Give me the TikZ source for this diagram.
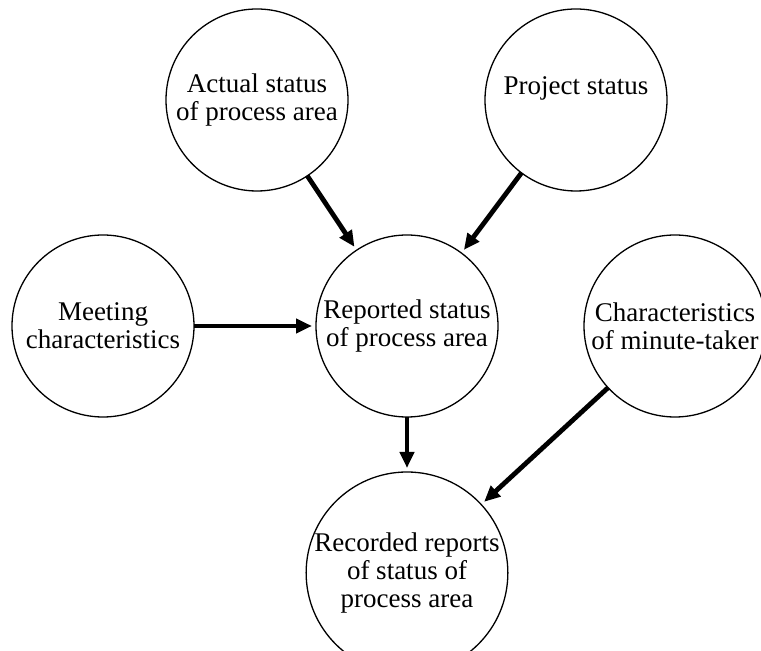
\documentclass[tikz,border=0pt]{standalone}
\usepackage{fontspec}
\setmainfont{Liberation Serif}
\usepackage{tikz}
\usetikzlibrary{arrows.meta, positioning}
\tikzset{
  % Concept circles
  concept/.style={
    circle, draw=black, fill=white, minimum size=91pt, inner sep=0pt,
    outer sep=0pt, line width=0.65pt, align=center, text=black,
    font=\fontsize{13.5}{14}\selectfont,
  },
  % Arrows
  myarrow/.style={-{Triangle[length=8pt, width=7pt]}, line width=2.4pt,
    shorten >=2pt, #1},
  myarrow/.default={black},
}
\begin{document}
\begin{tikzpicture}[x=0.5pt, y=-0.5pt]
  \useasboundingbox (0,0) rectangle (761,651);

  % Middle row
  \node[concept] (reported) at (407,326) {Reported status\\of process area};
  \node[concept, left=61pt of reported] (meeting) {Meeting\\characteristics};
  \node[concept, right=43pt of reported] (minute) {Characteristics\\of minute-taker};

  % Top row
  \node[concept, above=22pt of reported, xshift=-75pt] (actual) {Actual status\\of process area};
  \node[concept, above=22pt of reported, xshift=84.5pt] (project) {Project status\\\mbox{}};

  % Bottom
  \node[concept, below=27.5pt of reported] (recorded) {Recorded reports\\of status of\\process area};

  % Arrows
  \draw[myarrow] (actual) -- (reported);
  \draw[myarrow] (project) -- (reported);
  \draw[myarrow] (meeting) -- (reported);
  \draw[myarrow] (reported) -- (recorded);
  \draw[myarrow] (minute) -- (recorded);

\end{tikzpicture}
\end{document}
